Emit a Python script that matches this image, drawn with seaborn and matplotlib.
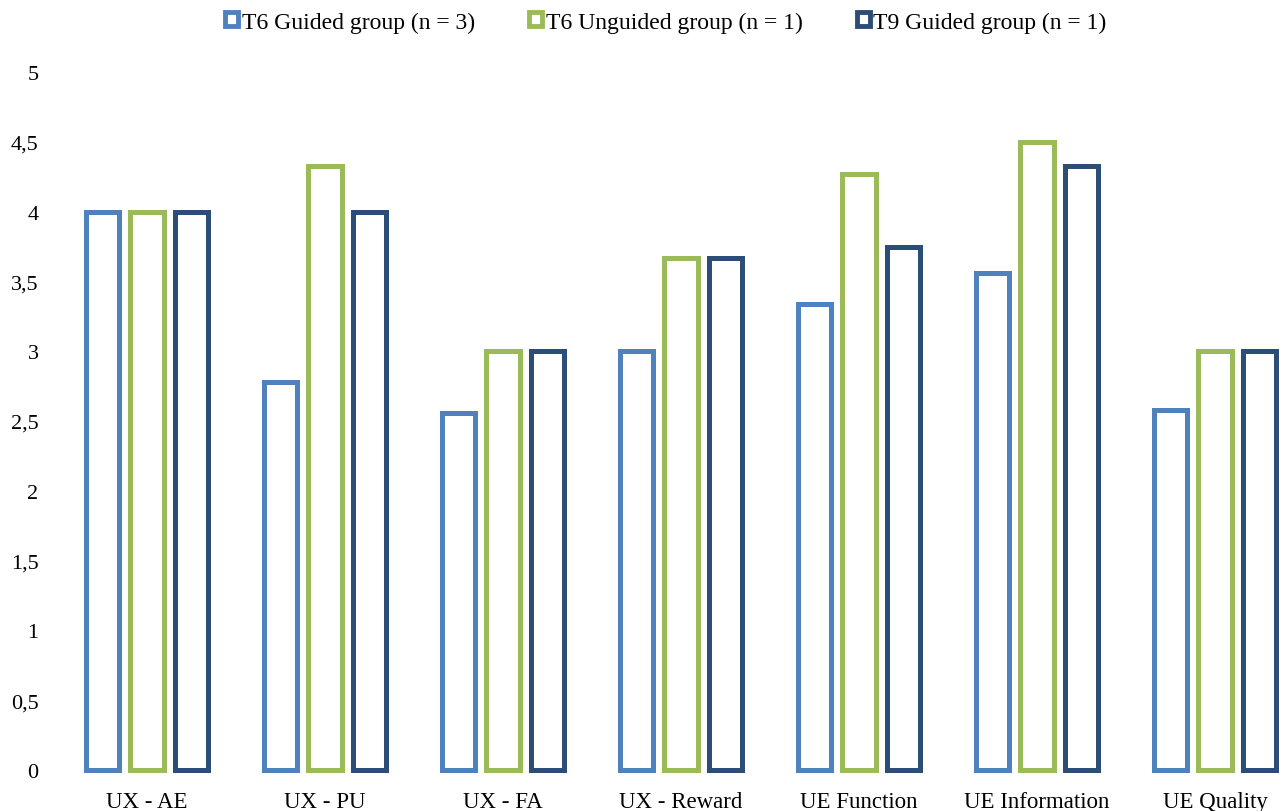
import matplotlib
matplotlib.use("Agg")
import matplotlib.pyplot as plt
import seaborn as sns
import pandas as pd
from matplotlib.patches import Patch

categories = ["UX - AE", "UX - PU", "UX - FA", "UX - Reward",
              "UE Function", "UE Information", "UE Quality"]
t6_guided = [4.0, 2.78, 2.56, 3.0, 3.34, 3.56, 2.58]
t6_unguided = [4.0, 4.33, 3.0, 3.67, 4.27, 4.5, 3.0]
t9_guided = [4.0, 4.0, 3.0, 3.67, 3.75, 4.33, 3.0]
series_names = ["T6 Guided group (n = 3)", "T6 Unguided group (n = 1)",
                "T9 Guided group (n = 1)"]
colors = ["#4F81BD", "#9BBB59", "#2C4D75"]
yticks = [0, 0.5, 1, 1.5, 2, 2.5, 3, 3.5, 4, 4.5, 5]
ytick_labels = ["0", "0,5", "1", "1,5", "2", "2,5", "3", "3,5", "4", "4,5", "5"]

rows = []
for name, vals in zip(series_names, [t6_guided, t6_unguided, t9_guided]):
    for c, v in zip(categories, vals):
        rows.append({"category": c, "group": name, "value": v})
df = pd.DataFrame(rows)

sns.set_style("white")
plt.rcParams["font.family"] = ["Liberation Serif", "DejaVu Serif"]
plt.rcParams["text.color"] = "#000000"

W, H = 1279, 812
fig = plt.figure(figsize=(W / 100, H / 100), dpi=100)
left, right = 58, 1304
bottom, top = 771, 73
ax = fig.add_axes([left / W, (H - bottom) / H, (right - left) / W, (bottom - top) / H])

sns.barplot(data=df, x="category", y="value", hue="group", order=categories,
            hue_order=series_names, palette=colors, width=0.755, gap=0.26,
            fill=False, linewidth=3.6, ax=ax, legend=False, errorbar=None)

for patch in ax.patches:
    patch.set_clip_on(False)
    patch.set_joinstyle("miter")

ax.set_xlim(-0.5, 6.5)
ax.set_ylim(0, 5)
ax.set_yticks(yticks)
ax.set_yticklabels(ytick_labels)
ax.set_xlabel("")
ax.set_ylabel("")
for s in ax.spines.values():
    s.set_visible(False)
ax.tick_params(axis="both", length=0, colors="#000000")
ax.tick_params(axis="y", pad=14, labelsize=16)
ax.tick_params(axis="x", pad=15, labelsize=16.5)
ax.grid(False)

handles = [Patch(facecolor="white", edgecolor=c, linewidth=3.5) for c in colors]
fig.legend(handles, series_names, loc="center", bbox_to_anchor=(666 / W, 1 - 23 / H),
           ncol=3, frameon=False, fontsize=17, handlelength=0.55, handleheight=0.55,
           handletextpad=0.15, columnspacing=2.3, labelcolor="#000000")

fig.savefig("out.png", dpi=100)
